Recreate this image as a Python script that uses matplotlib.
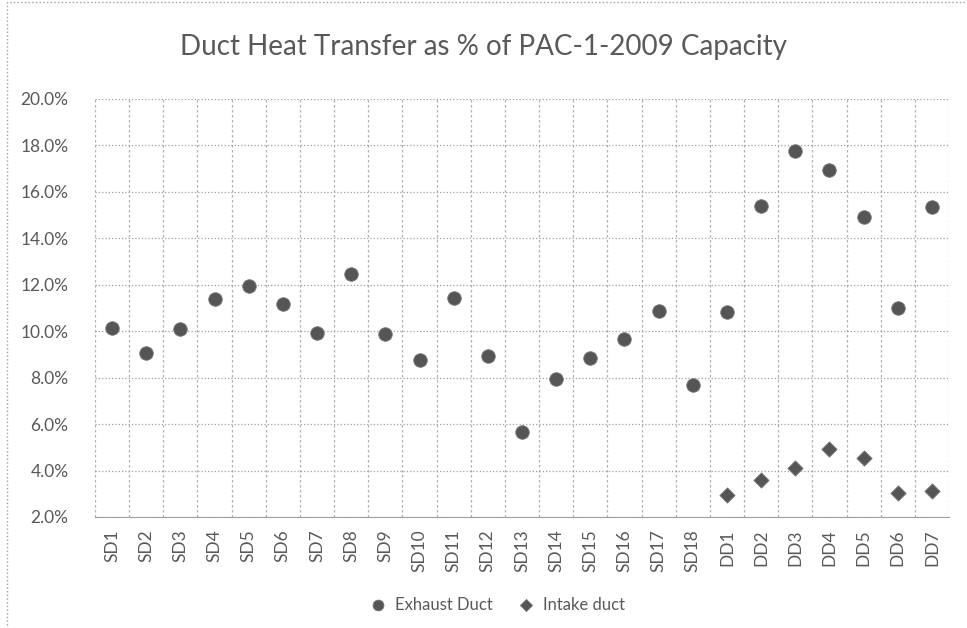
import matplotlib.pyplot as plt
import numpy as np
from matplotlib.patches import Rectangle
from matplotlib.ticker import FuncFormatter

labels = ['SD1', 'SD2', 'SD3', 'SD4', 'SD5', 'SD6', 'SD7', 'SD8', 'SD9', 'SD10',
          'SD11', 'SD12', 'SD13', 'SD14', 'SD15', 'SD16', 'SD17', 'SD18',
          'DD1', 'DD2', 'DD3', 'DD4', 'DD5', 'DD6', 'DD7']
exhaust = [10.15, 9.08, 10.1, 11.37, 11.95, 11.15, 9.93, 12.45, 9.9, 8.75,
           11.44, 8.95, 5.65, 7.92, 8.85, 9.68, 10.88, 7.7,
           10.84, 15.38, 17.75, 16.93, 14.9, 11.0, 15.33]
intake_labels = ['DD1', 'DD2', 'DD3', 'DD4', 'DD5', 'DD6', 'DD7']
intake = [2.95, 3.6, 4.13, 4.92, 4.52, 3.04, 3.1]

grey = '#595959'
plt.rcParams['font.family'] = ['Lato', 'DejaVu Sans']

fig = plt.figure(figsize=(9.67, 6.28), dpi=100)
ax = fig.add_axes([0.0982, 0.1768, 0.8832, 0.6656])

x = np.arange(len(labels))
xi = [labels.index(l) for l in intake_labels]

ax.scatter(x, exhaust, s=95, marker='o', color='#555555', edgecolors='#777777',
           linewidths=0.6, label='Exhaust Duct', zorder=3)
ax.scatter(xi, intake, s=60, marker='D', color='#555555', edgecolors='#777777',
           linewidths=0.6, label='Intake duct', zorder=3)

ax.set_xlim(-0.5, len(labels) - 0.5)
ax.set_ylim(2, 20)
ax.set_yticks(np.arange(2, 21, 2))
ax.yaxis.set_major_formatter(FuncFormatter(lambda v, p: '%.1f%%' % v))
ax.set_xticks(x)
ax.set_xticklabels(labels, rotation=90)
ax.set_xticks(np.arange(-0.5, len(labels), 1), minor=True)

ax.grid(True, which='major', axis='y', linestyle=':', color='#a0a0a0', linewidth=0.9)
ax.grid(True, which='minor', axis='x', linestyle=(0, (2, 2)), color='#b0b0b0', linewidth=0.9)
ax.tick_params(axis='both', which='both', length=0, colors=grey, labelsize=12.5)
ax.tick_params(axis='y', pad=19)
ax.tick_params(axis='x', pad=9)

for s in ['top', 'right', 'left']:
    ax.spines[s].set_visible(False)
ax.spines['bottom'].set_color('#a0a0a0')

fig.text(0.5, 0.925, 'Duct Heat Transfer as % of PAC-1-2009 Capacity', fontsize=20,
         color=grey, ha='center', va='center')

leg = fig.legend(loc='center', bbox_to_anchor=(0.51, 0.037), ncol=2, frameon=False,
                 fontsize=12, handletextpad=0.0, columnspacing=1.0, markerscale=0.8)
for t in leg.get_texts():
    t.set_color(grey)

fig.patches.append(Rectangle((7 / 967, -0.01), 1.0, 1 - 2 / 628 + 0.01,
                             transform=fig.transFigure, fill=False,
                             edgecolor='#a0a0a0', linestyle=':', linewidth=1))

fig.savefig('out.png', dpi=100)
